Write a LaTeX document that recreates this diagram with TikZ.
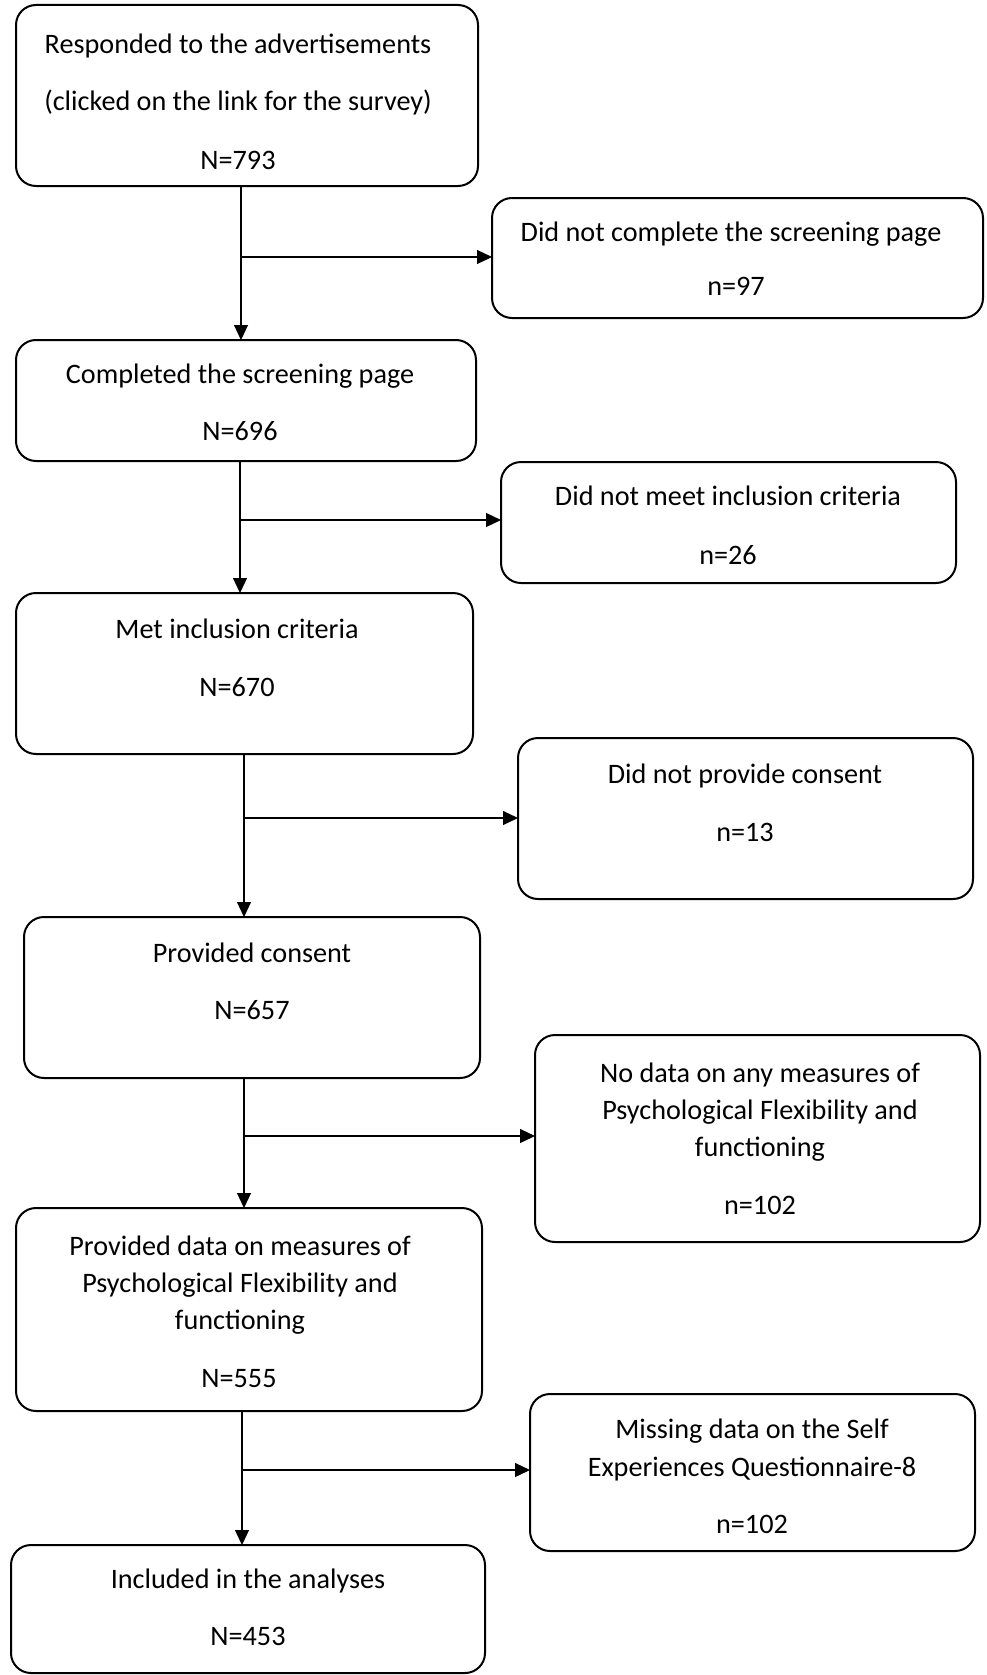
\documentclass[tikz,border=0pt]{standalone}
\usepackage{fontspec}
\setmainfont{Carlito}
\usetikzlibrary{arrows.meta}
\begin{document}
\begin{tikzpicture}[x=1pt,y=-1pt,
  box/.style={draw=black, line width=2pt, rounded corners=20pt, inner sep=0pt, outer sep=0pt},
  lbl/.style={font=\fontsize{28.2}{32}\selectfont, inner sep=0pt, text height=18pt, text depth=0pt, anchor=center},
  arr/.style={line width=1.2pt, -{Triangle[length=15pt,width=14pt]}}]
\useasboundingbox (0,0) rectangle (987,1675);

% boxes
\node[box, minimum width=462pt, minimum height=181pt] (B1) at (247,95.5) {};
\node[box, minimum width=491pt, minimum height=120pt] (B2) at (737.5,258) {};
\node[box, minimum width=460pt, minimum height=121pt] (B3) at (246,400.5) {};
\node[box, minimum width=455pt, minimum height=121pt] (B4) at (728.5,522.5) {};
\node[box, minimum width=457pt, minimum height=161pt] (B5) at (244.5,673.5) {};
\node[box, minimum width=455pt, minimum height=161pt] (B6) at (745.5,818.5) {};
\node[box, minimum width=456pt, minimum height=161pt] (B7) at (252,997.5) {};
\node[box, minimum width=445pt, minimum height=207pt] (B8) at (757.5,1138.5) {};
\node[box, minimum width=466pt, minimum height=203pt] (B9) at (249,1309.5) {};
\node[box, minimum width=445pt, minimum height=157pt] (B10) at (752.5,1472.5) {};
\node[box, minimum width=474pt, minimum height=128pt] (B11) at (248,1609) {};

% texts
\node[lbl] (t1a) at (238,45) {Responded to the advertisements};
\node[lbl] (t1b) at (238,102) {(clicked on the link for the survey)};
\node[lbl] (t1c) at (238,160) {N=793};
\node[lbl] (t2a) at (731,232) {Did not complete the screening page};
\node[lbl] (t2b) at (736,286) {n=97};
\node[lbl] (t3a) at (240,374) {Completed the screening page};
\node[lbl] (t3b) at (240,431) {N=696};
\node[lbl] (t4a) at (728,496) {Did not meet inclusion criteria};
\node[lbl] (t4b) at (728,555) {n=26};
\node[lbl] (t5a) at (237,629.5) {Met inclusion criteria};
\node[lbl] (t5b) at (237,687) {N=670};
\node[lbl] (t6a) at (745,774.5) {Did not provide consent};
\node[lbl] (t6b) at (745,832) {n=13};
\node[lbl] (t7a) at (252,953) {Provided consent};
\node[lbl] (t7b) at (252,1010) {N=657};
\node[lbl] (t8a) at (760,1073) {No data on any measures of};
\node[lbl] (t8b) at (760,1110) {Psychological Flexibility and};
\node[lbl] (t8c) at (760,1147) {functioning};
\node[lbl] (t8d) at (760,1205) {n=102};
\node[lbl] (t9a) at (240,1246) {Provided data on measures of};
\node[lbl] (t9b) at (240,1283) {Psychological Flexibility and};
\node[lbl] (t9c) at (240,1320.5) {functioning};
\node[lbl] (t9d) at (239,1378) {N=555};
\node[lbl] (t10a) at (752,1429.5) {Missing data on the Self};
\node[lbl] (t10b) at (752,1467) {Experiences Questionnaire-8};
\node[lbl] (t10c) at (752,1524) {n=102};
\node[lbl] (t11a) at (248,1579) {Included in the analyses};
\node[lbl] (t11b) at (248,1636) {N=453};

% junctions
\coordinate (j1) at (241,257);
\coordinate (j2) at (240,520);
\coordinate (j3) at (244,818);
\coordinate (j4) at (244,1136);
\coordinate (j5) at (242,1470);

% connectors
\draw[arr] (j1 |- B1.south) -- (j1 |- B3.north);
\draw[arr] (j1) -- (j1 -| B2.west);
\draw[arr] (j2 |- B3.south) -- (j2 |- B5.north);
\draw[arr] (j2) -- (j2 -| B4.west);
\draw[arr] (j3 |- B5.south) -- (j3 |- B7.north);
\draw[arr] (j3) -- (j3 -| B6.west);
\draw[arr] (j4 |- B7.south) -- (j4 |- B9.north);
\draw[arr] (j4) -- (j4 -| B8.west);
\draw[arr] (j5 |- B9.south) -- (j5 |- B11.north);
\draw[arr] (j5) -- (j5 -| B10.west);
\end{tikzpicture}
\end{document}
